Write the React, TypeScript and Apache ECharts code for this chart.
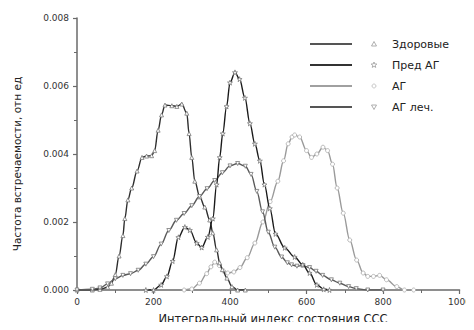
import React, { useEffect, useRef } from "react";
import * as echarts from "echarts";

const seriesNames = ["Здоровые", "Пред АГ", "АГ", "АГ леч."];

const healthyX = [0, 40, 60, 80, 90, 100, 110, 120, 125, 133, 143, 157, 170, 182, 195, 203, 212, 221, 230, 248, 261, 274, 287, 293, 300, 308, 321, 334, 347, 355, 365, 373, 380, 392, 405, 420, 440];
const healthyY = [0, 0, 0.00002, 0.00008, 0.0002, 0.00045, 0.001, 0.0016, 0.0021, 0.00265, 0.003, 0.0035, 0.0039, 0.00394, 0.00395, 0.0041, 0.0047, 0.00515, 0.00544, 0.00542, 0.0054, 0.00547, 0.0052, 0.0046, 0.0039, 0.0032, 0.00274, 0.00244, 0.00206, 0.00168, 0.00118, 0.0008, 0.0006, 0.00035, 0.0001, 0, 0];

const preX = [180, 200, 220, 235, 250, 265, 282, 295, 313, 326, 342, 355, 365, 373, 381, 391, 400, 413, 425, 439, 452, 465, 478, 490, 504, 519, 543, 569, 590, 608, 627, 645, 660];
const preY = [0, 0, 0.00015, 0.0004, 0.00085, 0.00155, 0.00185, 0.00176, 0.00138, 0.00125, 0.00156, 0.0021, 0.0031, 0.0039, 0.0046, 0.0054, 0.0061, 0.0064, 0.0062, 0.00565, 0.0049, 0.0043, 0.0038, 0.0031, 0.0024, 0.00165, 0.00124, 0.00097, 0.00074, 0.0005, 0.00015, 0.00002, 0];

const agX = [280, 300, 320, 339, 350, 360, 372, 383, 394, 410, 426, 445, 465, 486, 505, 525, 540, 552, 562, 569, 582, 600, 613, 627, 643, 655, 668, 680, 696, 713, 731, 748, 760, 775, 791, 809, 836, 856, 880];
const agY = [0, 0.00003, 0.0002, 0.00048, 0.00068, 0.00082, 0.00072, 0.00056, 0.0005, 0.00053, 0.00066, 0.00095, 0.00138, 0.002, 0.0026, 0.0032, 0.0038, 0.0043, 0.0045, 0.00456, 0.0045, 0.0041, 0.0039, 0.004, 0.0042, 0.0041, 0.0037, 0.003, 0.00226, 0.00147, 0.00088, 0.0005, 0.0004, 0.0004, 0.00043, 0.0003, 0.0001, 0, 0];

const treatedX = [0, 40, 60, 80, 100, 120, 140, 160, 180, 200, 220, 240, 260, 280, 300, 320, 340, 360, 380, 400, 420, 440, 455, 470, 485, 500, 517, 535, 550, 561, 575, 590, 608, 625, 642, 665, 687, 710, 730, 760, 800];
const treatedY = [0, 0.00002, 0.00006, 0.00018, 0.00033, 0.00043, 0.00048, 0.00058, 0.00076, 0.00098, 0.00135, 0.00175, 0.00205, 0.00225, 0.00248, 0.00275, 0.00298, 0.00322, 0.00345, 0.00365, 0.00372, 0.00364, 0.0034, 0.0029, 0.0023, 0.0017, 0.00126, 0.00097, 0.0008, 0.00074, 0.0007, 0.00072, 0.00066, 0.00055, 0.00043, 0.0003, 0.0002, 0.0001, 0.00004, 0, 0];

const xTicks = [0, 200, 400, 600, 800, 1000];
const yTicks = [0, 0.002, 0.004, 0.006, 0.008];
const xTitle = "Интегральный индекс состояния ССС";
const yTitle = "Частота встречаемости, отн ед";

const starPath =
  "path://M50,0 L61,35 L98,35 L68,57 L79,91 L50,70 L21,91 L32,57 L2,35 L39,35 Z";

const FONT = "DejaVu Sans";

function pairs(xs: number[], ys: number[]) {
  return xs.map((x, i) => [x, ys[i]]);
}

export default function App() {
  const ref = useRef<HTMLDivElement>(null);
  useEffect(() => {
    if (!ref.current) return;
    const chart = echarts.init(ref.current, null, { renderer: "svg" });
    const lineColors = ["#2e2e2e", "#1a1a1a", "#9a9a9a", "#5a5a5a"];
    const legendColors = ["#555", "#333", "#a0a0a0", "#555"];
    const symbols: any[] = ["triangle", starPath, "circle", "triangle"];
    const rot = [0, 0, 0, 180];
    const datasets = [
      pairs(healthyX, healthyY),
      pairs(preX, preY),
      pairs(agX, agY),
      pairs(treatedX, treatedY),
    ];
    const axisColor = "#6a6a6a";
    const legendRowsY = [44, 65, 86, 107];
    const g: any[] = [];
    legendRowsY.forEach((y, i) => {
      g.push({
        type: "line",
        shape: { x1: 310, y1: y, x2: 352, y2: y },
        style: { stroke: legendColors[i], lineWidth: 2 },
      });
      const mc = "#9a9a9a";
      if (i === 0) {
        g.push({
          type: "polygon",
          shape: { points: [[374, y - 2.5], [371.5, y + 2], [376.5, y + 2]] },
          style: { fill: "#fff", stroke: mc, lineWidth: 0.8 },
        });
      } else if (i === 1) {
        const pts: number[][] = [];
        for (let k = 0; k < 10; k++) {
          const r = k % 2 === 0 ? 3 : 1.3;
          const a = -Math.PI / 2 + (k * Math.PI) / 5;
          pts.push([374 + r * Math.cos(a), y + r * Math.sin(a)]);
        }
        g.push({
          type: "polygon",
          shape: { points: pts },
          style: { fill: "#fff", stroke: mc, lineWidth: 0.8 },
        });
      } else if (i === 2) {
        g.push({
          type: "circle",
          shape: { cx: 374, cy: y, r: 2 },
          style: { fill: "#fff", stroke: "#bbb", lineWidth: 0.8 },
        });
      } else {
        g.push({
          type: "polygon",
          shape: { points: [[374, y + 2.5], [371.5, y - 2], [376.5, y - 2]] },
          style: { fill: "#fff", stroke: mc, lineWidth: 0.8 },
        });
      }
      g.push({
        type: "text",
        x: 392,
        y: y,
        style: {
          text: seriesNames[i],
          font: `11px "${FONT}"`,
          fill: "#222",
          verticalAlign: "middle",
          align: "left",
        },
      });
    });
    g.push({
      type: "text",
      x: 17,
      y: 164,
      rotation: Math.PI / 2,
      style: {
        text: yTitle,
        font: `10.5px "${FONT}"`,
        fill: "#222",
        align: "center",
        verticalAlign: "middle",
      },
    });
    g.push({
      type: "text",
      x: 273,
      y: 319,
      style: {
        text: xTitle,
        font: `11.5px "${FONT}"`,
        fill: "#222",
        align: "center",
        verticalAlign: "middle",
      },
    });

    chart.setOption({
      animation: false,
      backgroundColor: "#fff",
      grid: { left: 77, right: 14, top: 18, bottom: 40 },
      xAxis: {
        type: "value",
        min: 0,
        max: 1000,
        interval: 200,
        axisLine: { show: true, onZero: false, lineStyle: { color: axisColor, width: 1.5 } },
        axisTick: { show: true, length: 4, lineStyle: { color: axisColor, width: 1.2 } },
        minorTick: { show: true, splitNumber: 2, length: 3, lineStyle: { color: axisColor } },
        splitLine: { show: false },
        axisLabel: {
          margin: 7,
          fontFamily: FONT,
          fontSize: 9,
          color: "#333",
          formatter: (v: number) => (xTicks.includes(v) ? String(v) : ""),
        },
      },
      yAxis: {
        type: "value",
        min: 0,
        max: 0.008,
        interval: 0.002,
        axisLine: { show: true, lineStyle: { color: axisColor, width: 1.5 } },
        axisTick: { show: true, length: 4, lineStyle: { color: axisColor, width: 1.2 } },
        minorTick: { show: true, splitNumber: 2, length: 3, lineStyle: { color: axisColor } },
        splitLine: { show: false },
        axisLabel: {
          margin: 8,
          fontFamily: FONT,
          fontSize: 9,
          color: "#333",
          formatter: (v: number) => (yTicks.some((t) => Math.abs(t - v) < 1e-9) ? v.toFixed(3) : ""),
        },
      },
      series: datasets.map((d, i) => ({
        name: seriesNames[i],
        type: "line",
        data: d,
        smooth: 0.35,
        smoothMonotone: "x",
        symbol: symbols[i],
        symbolRotate: rot[i],
        symbolSize: i === 1 ? 5 : 4,
        showSymbol: true,
        itemStyle: { color: "#fff", borderColor: i === 2 ? "#aaa" : "#777", borderWidth: 0.8 },
        lineStyle: { color: lineColors[i], width: 1.4 },
        z: [3, 4, 2, 3][i],
      })),
      graphic: g,
    });
    return () => chart.dispose();
  }, []);
  return <div ref={ref} style={{ width: 474, height: 330, margin: -8 }} />;
}
